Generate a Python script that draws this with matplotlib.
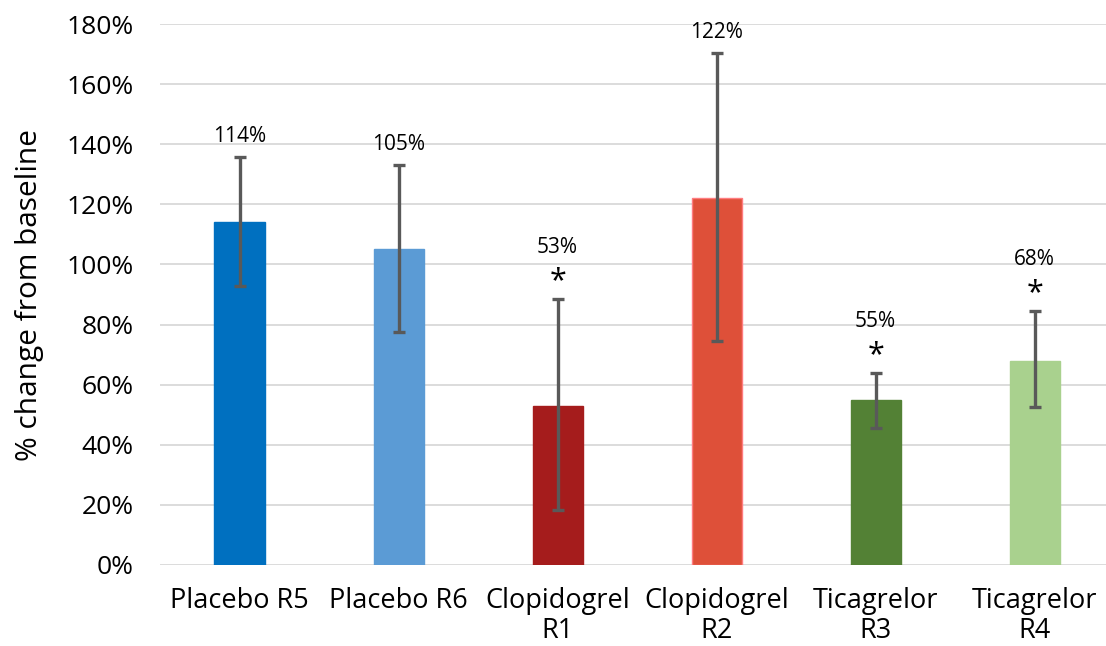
import numpy as np
import matplotlib
matplotlib.use("Agg")
import matplotlib.pyplot as plt
from matplotlib.ticker import PercentFormatter

plt.rcParams['font.family'] = ['Open Sans', 'DejaVu Sans']

# data
groups = ["Placebo R5", "Placebo R6", "Clopidogrel\nR1", "Clopidogrel\nR2", "Ticagrelor\nR3", "Ticagrelor\nR4"]
means = [114, 105, 53, 122, 55, 68]
err_hi = [135.7, 133, 88.5, 170.3, 63.9, 84.5]
err_lo = [92.8, 77.5, 18.3, 74.5, 45.6, 52.6]
value_labels = ["114%", "105%", "53%", "122%", "55%", "68%"]
significant = [False, False, True, False, True, True]

colors = ["#0070C0", "#5B9BD5", "#A51C1C", "#DE5039", "#538135", "#A9D18E"]
edges = ["#0070C0", "#5B9BD5", "#A51C1C", "#FF7C80", "#538135", "#A9D18E"]

means = np.array(means)
yerr = [means - np.array(err_lo), np.array(err_hi) - means]

fig = plt.figure(figsize=(11.06, 6.46), dpi=100)
ax = fig.add_axes([0.1447, 0.1254, 0.8626, 0.8374])

x = np.arange(len(groups))
ax.bar(x, means, width=0.315, color=colors, edgecolor=edges, linewidth=1, zorder=2)
ax.errorbar(x, means, yerr=yerr, fmt="none", ecolor="#595959",
            elinewidth=2.4, capsize=4.5, capthick=2.4, zorder=3)

# value labels and significance stars
for i in range(len(groups)):
    if significant[i]:
        ax.text(x[i], err_hi[i] + 1, "*", ha="center", va="bottom", fontsize=22, zorder=4)
        ax.text(x[i], err_hi[i] + 13.5, value_labels[i], ha="center", va="bottom", fontsize=15)
    else:
        ax.text(x[i], err_hi[i] + 3.5, value_labels[i], ha="center", va="bottom", fontsize=15)

ax.set_xlim(-0.5, 5.5)
ax.set_ylim(0, 180)
ax.set_yticks(np.arange(0, 181, 20))
ax.yaxis.set_major_formatter(PercentFormatter(decimals=0))
ax.set_xticks(x)
ax.set_xticklabels(groups, fontsize=19.5, linespacing=1.1)
ax.tick_params(axis="y", labelsize=19, length=0, pad=19)
ax.tick_params(axis="x", length=0, pad=16)
ax.grid(axis="y", color="#D9D9D9", linewidth=1.3, zorder=0)
ax.set_axisbelow(True)
for s in ax.spines.values():
    s.set_visible(False)
ax.set_ylabel("% change from baseline", fontsize=21.5, labelpad=16)

fig.savefig("out.png", dpi=100)
